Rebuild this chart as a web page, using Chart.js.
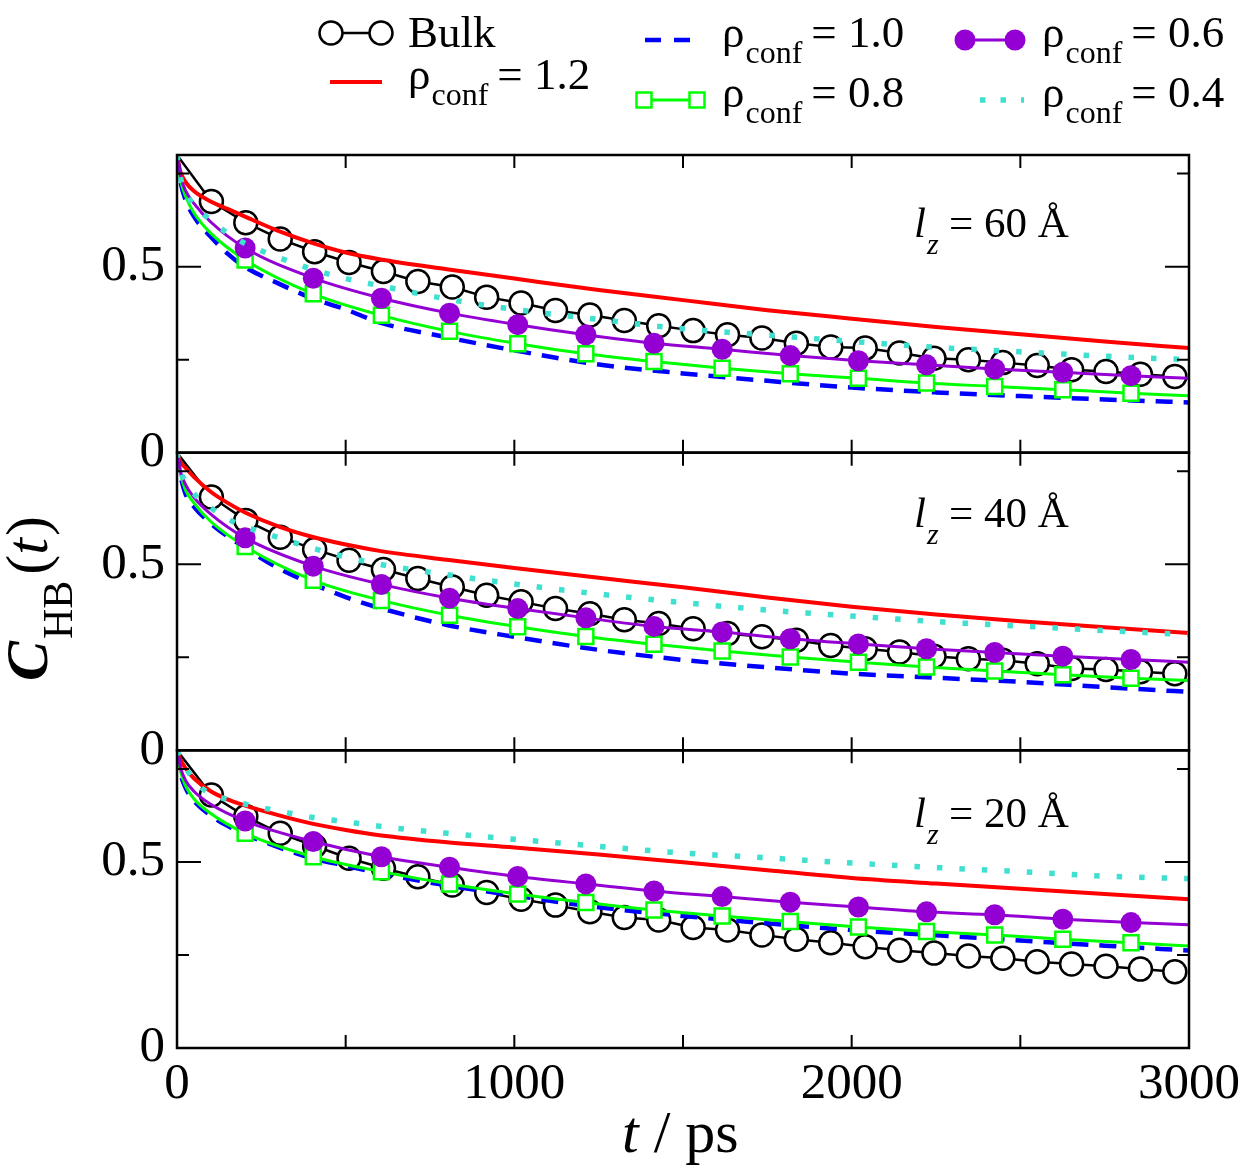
<!DOCTYPE html>
<html><head><meta charset="utf-8">
<script src="https://cdn.jsdelivr.net/npm/chart.js@4.4.0/dist/chart.umd.min.js"></script>
<style>html,body{margin:0;padding:0;background:#fff;}#wrap{position:relative;width:1246px;height:1171px;}</style>
</head><body><div id="wrap"><canvas id="c" width="1246" height="1171"></canvas></div>
<script>
// ---------- data ----------
const xTicks = [0, 1000, 2000, 3000];
const xMinorTicks = [500, 1000, 1500, 2000, 2500];
const yTicks = [0, 0.5];
const yMinorTicks = [0.25, 0.75];
const panelLabels = ['60', '40', '20'];

const tGrid = [0,10,25,50,100,150,200,300,400,500,600,800,1000,1250,1500,1750,2000,2250,2500,2750,3000];
const bulkT = [102,204,306,408,510,612,714,816,918,1020,1122,1224,1326,1428,1530,1632,1734,1836,1938,2040,2142,2244,2346,2448,2550,2652,2754,2856,2958];
const markT = [202,404,606,808,1010,1212,1414,1616,1818,2020,2222,2424,2626,2828];
const headT = [0,10,25,50,100];
const tailT = [3000];

// lz = 60 A
const bulk60 = [0.675,0.618,0.574,0.540,0.511,0.487,0.460,0.445,0.418,0.402,0.382,0.370,0.355,0.341,0.328,0.317,0.308,0.294,0.284,0.281,0.268,0.254,0.250,0.242,0.234,0.223,0.218,0.211,0.205];
const red60 = [0.8,0.755,0.728,0.703,0.675,0.655,0.635,0.596,0.564,0.538,0.52,0.493,0.468,0.437,0.41,0.383,0.36,0.338,0.318,0.299,0.281];
const blue60 = [0.8,0.73,0.68,0.635,0.58,0.535,0.5,0.455,0.415,0.385,0.35,0.31,0.275,0.237,0.213,0.193,0.175,0.162,0.152,0.143,0.135];
const cyan60 = [0.8,0.74,0.70,0.665,0.625,0.59,0.563,0.525,0.493,0.468,0.449,0.413,0.385,0.358,0.333,0.316,0.299,0.283,0.271,0.259,0.250];
const purpleHead60 = [0.8,0.745,0.705,0.67,0.62];
const purple60 = [0.550,0.469,0.415,0.375,0.344,0.317,0.294,0.278,0.261,0.247,0.236,0.225,0.216,0.207];
const purpleTail60 = [0.2];
const greenHead60 = [0.8,0.735,0.69,0.645,0.59];
const green60 = [0.518,0.427,0.369,0.326,0.293,0.266,0.245,0.227,0.212,0.200,0.187,0.178,0.169,0.160];
const greenTail60 = [0.153];

// lz = 40 A
const bulk40 = [0.681,0.618,0.573,0.540,0.511,0.486,0.462,0.439,0.417,0.399,0.381,0.367,0.351,0.341,0.327,0.314,0.305,0.296,0.282,0.273,0.264,0.253,0.246,0.242,0.233,0.220,0.217,0.211,0.206];
const red40 = [0.8,0.775,0.76,0.735,0.695,0.665,0.64,0.602,0.574,0.553,0.536,0.512,0.49,0.464,0.438,0.411,0.386,0.365,0.347,0.331,0.315];
const blue40 = [0.8,0.74,0.69,0.655,0.61,0.575,0.545,0.49,0.448,0.412,0.383,0.337,0.305,0.27,0.243,0.223,0.206,0.195,0.184,0.17,0.157];
const cyan40 = [0.8,0.75,0.725,0.69,0.652,0.622,0.602,0.572,0.544,0.52,0.5,0.472,0.447,0.42,0.397,0.377,0.361,0.346,0.334,0.322,0.311];
const purpleHead40 = [0.8,0.75,0.715,0.68,0.635];
const purple40 = [0.571,0.495,0.446,0.409,0.381,0.356,0.333,0.318,0.300,0.286,0.273,0.263,0.253,0.244];
const purpleTail40 = [0.237];
const greenHead40 = [0.8,0.745,0.70,0.665,0.615];
const green40 = [0.548,0.457,0.403,0.363,0.332,0.306,0.285,0.267,0.251,0.237,0.224,0.213,0.203,0.194];
const greenTail40 = [0.188];

// lz = 20 A
const bulk20 = [0.680,0.622,0.577,0.543,0.510,0.483,0.460,0.438,0.418,0.400,0.384,0.366,0.351,0.344,0.324,0.317,0.304,0.292,0.283,0.272,0.263,0.255,0.247,0.241,0.232,0.226,0.220,0.212,0.205];
const red20 = [0.8,0.775,0.752,0.725,0.69,0.668,0.652,0.626,0.603,0.586,0.572,0.553,0.539,0.52,0.499,0.478,0.457,0.442,0.428,0.414,0.4];
const blue20 = [0.8,0.74,0.70,0.665,0.625,0.597,0.575,0.54,0.51,0.49,0.47,0.437,0.41,0.378,0.355,0.335,0.317,0.303,0.289,0.275,0.262];
const cyan20 = [0.8,0.78,0.755,0.72,0.682,0.668,0.656,0.637,0.62,0.608,0.596,0.577,0.561,0.542,0.524,0.511,0.497,0.485,0.474,0.462,0.455];
const purpleHead20 = [0.8,0.755,0.72,0.69,0.655];
const purple20 = [0.610,0.555,0.514,0.486,0.461,0.441,0.422,0.407,0.392,0.379,0.366,0.358,0.346,0.337];
const purpleTail20 = [0.331];
const greenHead20 = [0.8,0.745,0.705,0.67,0.63];
const green20 = [0.577,0.514,0.474,0.441,0.414,0.391,0.371,0.355,0.340,0.325,0.313,0.304,0.292,0.283];
const greenTail20 = [0.274];

// ---------- styles ----------
const C_RED = '#ff0000', C_BLUE = '#0000ff', C_PURPLE = '#9400d3', C_GREEN = '#00ff00', C_CYAN = '#40e0d0';
const SERIF = '"Liberation Serif", "Times New Roman", serif';

function pts(xs, ys) { return xs.map((x, i) => ({x: x, y: ys[i]})); }

function panelDatasets(axis, bulk, red, blue, cyan, pH, p, pT, gH, g, gT) {
  const bulkData = [{x: 0, y: 0.8}].concat(pts(bulkT, bulk));
  const purpleData = pts(headT, pH).concat(pts(markT, p), pts(tailT, pT));
  const greenData = pts(headT, gH).concat(pts(markT, g), pts(tailT, gT));
  const markRadius = (r) => (ctx) => (ctx.raw && (ctx.raw.x < 150 || ctx.raw.x > 2900)) ? 0 : r;
  return [
    {label: 'bulk', yAxisID: axis, data: bulkData, borderColor: '#000', borderWidth: 2.5, order: 6,
     pointRadius: (ctx) => (ctx.raw && ctx.raw.x === 0) ? 0 : 11.5, pointBackgroundColor: '#fff', pointBorderColor: '#000', pointBorderWidth: 2.5, tension: 0},
    {label: 'red', yAxisID: axis, data: pts(tGrid, red), borderColor: C_RED, borderWidth: 4, pointRadius: 0, cubicInterpolationMode: 'monotone', order: 5},
    {label: 'blue', yAxisID: axis, data: pts(tGrid, blue), borderColor: C_BLUE, borderWidth: 4.5, borderDash: [17, 11], pointRadius: 0, cubicInterpolationMode: 'monotone', order: 4},
    {label: 'green', yAxisID: axis, data: greenData, borderColor: C_GREEN, borderWidth: 3, cubicInterpolationMode: 'monotone', order: 3,
     pointRadius: markRadius(10.6), pointStyle: 'rect', pointBackgroundColor: '#fff', pointBorderColor: C_GREEN, pointBorderWidth: 2.5},
    {label: 'purple', yAxisID: axis, data: purpleData, borderColor: C_PURPLE, borderWidth: 3, cubicInterpolationMode: 'monotone', order: 2,
     pointRadius: markRadius(10.5), pointBackgroundColor: C_PURPLE, pointBorderColor: C_PURPLE, pointBorderWidth: 0},
    {label: 'cyan', yAxisID: axis, data: pts(tGrid, cyan), borderColor: C_CYAN, borderWidth: 5.5, borderDash: [5.5, 17], borderCapStyle: 'butt', pointRadius: 0, cubicInterpolationMode: 'monotone', order: 1}
  ];
}

const datasets = [].concat(
  panelDatasets('y60', bulk60, red60, blue60, cyan60, purpleHead60, purple60, purpleTail60, greenHead60, green60, greenTail60),
  panelDatasets('y40', bulk40, red40, blue40, cyan40, purpleHead40, purple40, purpleTail40, greenHead40, green40, greenTail40),
  panelDatasets('y20', bulk20, red20, blue20, cyan20, purpleHead20, purple20, purpleTail20, greenHead20, green20, greenTail20)
);

function yScale() {
  return {
    type: 'linear', position: 'left', stack: 'panels', stackWeight: 1, min: 0, max: 0.8,
    grid: {display: false, drawTicks: false}, border: {display: false},
    ticks: {font: {family: SERIF, size: 51}, color: '#000', padding: 12, callback: (v) => String(v)},
    afterBuildTicks: (s) => { s.ticks = yTicks.map(v => ({value: v})); },
    afterFit: (s) => { s.width = 177; s.paddingTop = 0; s.paddingBottom = 0; }
  };
}

const decor = {
  id: 'decor',
  afterDraw(chart) {
    const ctx = chart.ctx, xs = chart.scales.x, area = chart.chartArea;
    ctx.save();
    ctx.strokeStyle = '#000'; ctx.fillStyle = '#000';
    ['y60', 'y40', 'y20'].forEach((id, k) => {
      const s = chart.scales[id];
      ctx.lineWidth = 2.5;
      ctx.strokeRect(area.left, s.top, area.right - area.left, s.bottom - s.top);
      ctx.lineWidth = 2;
      ctx.beginPath();
      xMinorTicks.forEach(v => {
        const px = xs.getPixelForValue(v);
        ctx.moveTo(px, s.bottom); ctx.lineTo(px, s.bottom - 13);
        ctx.moveTo(px, s.top); ctx.lineTo(px, s.top + 13);
      });
      yTicks.filter(v => v > 0).forEach(v => {
        const py = s.getPixelForValue(v);
        ctx.moveTo(area.left, py); ctx.lineTo(area.left + 24, py);
        ctx.moveTo(area.right, py); ctx.lineTo(area.right - 24, py);
      });
      yMinorTicks.forEach(v => {
        const py = s.getPixelForValue(v);
        ctx.moveTo(area.left, py); ctx.lineTo(area.left + 12, py);
        ctx.moveTo(area.right, py); ctx.lineTo(area.right - 12, py);
      });
      ctx.stroke();
      // panel annotation
      const bx = 914, by = s.top + [82, 74, 77][k];
      ctx.textBaseline = 'alphabetic'; ctx.textAlign = 'left';
      ctx.font = 'italic 43px ' + SERIF;
      ctx.fillText('l', bx, by);
      const wl = ctx.measureText('l').width;
      ctx.font = 'italic 30px ' + SERIF;
      ctx.fillText('z', bx + wl + 1, by + 17);
      ctx.font = '43px ' + SERIF;
      ctx.fillText('= ' + panelLabels[k] + ' Å', bx + 35, by);
    });
    // x title
    ctx.font = 'italic 60px ' + SERIF;
    ctx.textAlign = 'left';
    ctx.fillText('t', 622, 1152);
    const wt = ctx.measureText('t').width;
    ctx.font = '60px ' + SERIF;
    ctx.fillText(' / ps', 622 + wt, 1152);
    // y title
    ctx.save();
    ctx.translate(47, 681);
    ctx.rotate(-Math.PI / 2);
    ctx.font = 'bold italic 60px ' + SERIF;
    ctx.fillText('C', 0, 0);
    let w = ctx.measureText('C').width;
    ctx.font = '42px ' + SERIF;
    ctx.fillText('HB', w + 2, 25);
    w += 2 + ctx.measureText('HB').width + 6;
    ctx.font = '60px ' + SERIF;
    ctx.fillText('(', w, 0); w += ctx.measureText('(').width;
    ctx.font = 'italic 60px ' + SERIF;
    ctx.fillText('t', w, 0); w += ctx.measureText('t').width + 2;
    ctx.font = '60px ' + SERIF;
    ctx.fillText(')', w, 0);
    ctx.restore();
    // legend
    const rho = (x, base, val) => {
      ctx.font = '45px ' + SERIF;
      ctx.fillText('ρ', x, base);
      let w1 = ctx.measureText('ρ').width;
      ctx.font = '32px ' + SERIF;
      ctx.fillText('conf', x + w1 + 1, base + 16);
      let w2 = ctx.measureText('conf').width;
      ctx.font = '45px ' + SERIF;
      ctx.fillText('= ' + val, x + w1 + w2 + 10, base);
    };
    // Bulk
    ctx.lineWidth = 2.5; ctx.strokeStyle = '#000';
    ctx.beginPath(); ctx.moveTo(331, 33); ctx.lineTo(381, 33); ctx.stroke();
    [331, 381].forEach(cx => { ctx.beginPath(); ctx.arc(cx, 33, 11.5, 0, 2 * Math.PI); ctx.fillStyle = '#fff'; ctx.fill(); ctx.stroke(); });
    ctx.fillStyle = '#000';
    ctx.font = '45px ' + SERIF; ctx.fillText('Bulk', 408, 47);
    // 1.2
    ctx.strokeStyle = C_RED; ctx.lineWidth = 4;
    ctx.beginPath(); ctx.moveTo(330, 82); ctx.lineTo(382, 82); ctx.stroke();
    rho(408, 89, '1.2');
    // 1.0
    ctx.strokeStyle = C_BLUE; ctx.lineWidth = 4.5; ctx.setLineDash([16, 13]);
    ctx.beginPath(); ctx.moveTo(645, 40); ctx.lineTo(692, 40); ctx.stroke();
    ctx.setLineDash([]);
    rho(722, 47, '1.0');
    // 0.8
    ctx.strokeStyle = C_GREEN; ctx.lineWidth = 3;
    ctx.beginPath(); ctx.moveTo(644, 100); ctx.lineTo(697, 100); ctx.stroke();
    ctx.lineWidth = 2.5;
    [644, 697].forEach(cx => { ctx.fillStyle = '#fff'; ctx.fillRect(cx - 7.5, 92.5, 15, 15); ctx.strokeRect(cx - 7.5, 92.5, 15, 15); });
    ctx.fillStyle = '#000';
    rho(722, 107, '0.8');
    // 0.6
    ctx.strokeStyle = C_PURPLE; ctx.lineWidth = 3;
    ctx.beginPath(); ctx.moveTo(965, 40); ctx.lineTo(1015, 40); ctx.stroke();
    ctx.fillStyle = C_PURPLE;
    [965, 1015].forEach(cx => { ctx.beginPath(); ctx.arc(cx, 40, 10.5, 0, 2 * Math.PI); ctx.fill(); });
    ctx.fillStyle = '#000';
    rho(1042, 47, '0.6');
    // 0.4
    ctx.strokeStyle = C_CYAN; ctx.lineWidth = 5.5; ctx.setLineDash([5.5, 15]);
    ctx.beginPath(); ctx.moveTo(980, 100); ctx.lineTo(1024, 100); ctx.stroke();
    ctx.setLineDash([]);
    rho(1042, 107, '0.4');
    ctx.restore();
  }
};

new Chart(document.getElementById('c'), {
  type: 'line',
  data: {datasets: datasets},
  options: {
    responsive: false, animation: false, devicePixelRatio: 1, events: [],
    layout: {padding: {top: 155, right: 57, left: 0, bottom: 0}},
    plugins: {legend: {display: false}, tooltip: {enabled: false}},
    scales: {
      x: {
        type: 'linear', position: 'bottom', min: 0, max: 3000,
        grid: {display: false, drawTicks: false}, border: {display: false},
        ticks: {font: {family: SERIF, size: 51}, color: '#000', padding: 6, maxRotation: 0, autoSkip: false, callback: (v) => String(v)},
        afterBuildTicks: (s) => { s.ticks = xTicks.map(v => ({value: v})); },
        afterFit: (s) => { s.height = 123; s.paddingLeft = 0; s.paddingRight = 0; }
      },
      y20: yScale(),
      y40: yScale(),
      y60: yScale()
    }
  },
  plugins: [decor]
});
</script>
</body></html>
